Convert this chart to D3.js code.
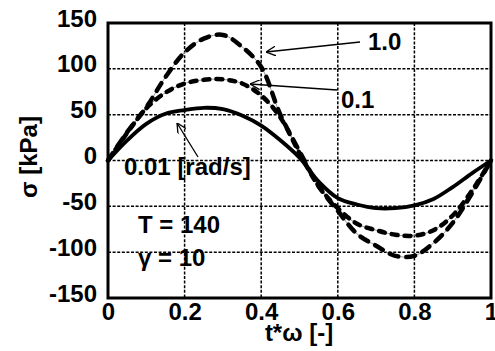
<!DOCTYPE html>
<html>
<head>
<meta charset="utf-8">
<script src="https://cdn.jsdelivr.net/npm/d3@7"></script>
<style>
  body { margin: 0; background: #fff; }
  text { font-family: "Liberation Sans", Arial, sans-serif; font-weight: bold; fill: #000; }
</style>
</head>
<body>
<div class="chart"></div>
<script>
// t*omega sample points and stress curves (kPa) for 3 angular frequencies
const tw = [0, 0.05, 0.1, 0.15, 0.2, 0.25, 0.3, 0.35, 0.4, 0.45, 0.5,
            0.55, 0.6, 0.65, 0.7, 0.75, 0.8, 0.85, 0.9, 0.95, 1];
const sig001 = [0, 22, 40, 51, 55, 57.5, 56, 49, 38, 22, 3,
                -23, -41, -48, -52, -52, -49, -42, -29, -14, 0];
const sig01 = [0, 30, 57, 74, 84, 88, 88.5, 84, 71, 47, 8,
               -28, -52, -69, -76, -81, -82, -76, -60, -33, 0];
const sig1 = [0, 31, 58, 91, 118, 133, 137, 124, 102, 50, 10,
              -28, -55, -80, -93, -104, -104, -90, -68, -36, 0];

const xTicks = [0, 0.2, 0.4, 0.6, 0.8, 1];
const xTickLabels = ["0", "0.2", "0.4", "0.6", "0.8", "1"];
const yTicks = [-150, -100, -50, 0, 50, 100, 150];

var width = 495, height = 351;
var mLeft = 108, mRight = 491, mTop = 23, mBottom = 298;

var svg = d3.select(".chart").append("svg")
  .attr("width", width)
  .attr("height", height);

var x = d3.scaleLinear().domain([0, 1]).range([mLeft, mRight]);
var y = d3.scaleLinear().domain([-150, 150]).range([mBottom, mTop]);

// arrow head marker (open "<" shape)
svg.append("defs").append("marker")
  .attr("id", "arr")
  .attr("viewBox", "0 0 10 10")
  .attr("refX", 10).attr("refY", 5)
  .attr("markerWidth", 10).attr("markerHeight", 10)
  .attr("markerUnits", "userSpaceOnUse")
  .attr("orient", "auto")
  .append("path")
  .attr("d", "M0,0 L10,5 L0,10")
  .attr("fill", "none")
  .attr("stroke", "#000")
  .attr("stroke-width", 1.3);

// grid
var grid = svg.append("g").attr("class", "grid");
grid.selectAll("line.v")
  .data(xTicks.filter(d => d > 0 && d < 1))
  .enter().append("line")
  .attr("x1", d => x(d)).attr("x2", d => x(d))
  .attr("y1", mTop).attr("y2", mBottom)
  .attr("stroke", "#000").attr("stroke-width", 1.5)
  .attr("stroke-dasharray", "3,1.6");
grid.selectAll("line.h")
  .data(yTicks.filter(d => d > -150 && d < 150))
  .enter().append("line")
  .attr("y1", d => y(d)).attr("y2", d => y(d))
  .attr("x1", mLeft).attr("x2", mRight)
  .attr("stroke", "#000").attr("stroke-width", 1.5)
  .attr("stroke-dasharray", "3,1.6");

// tick labels via axes
var xAxis = svg.append("g")
  .attr("transform", "translate(0," + mBottom + ")")
  .call(d3.axisBottom(x).tickValues(xTicks).tickSize(0).tickPadding(0)
    .tickFormat((d, i) => xTickLabels[i]));
xAxis.select(".domain").remove();
xAxis.selectAll("text")
  .attr("y", 22).attr("dy", null)
  .style("font-size", "24px")
  .style("font-family", "Liberation Sans, Arial, sans-serif")
  .style("font-weight", "bold");

// plain hyphen for negatives, like the original
var yAxis = svg.append("g")
  .attr("transform", "translate(" + mLeft + ",0)")
  .call(d3.axisLeft(y).tickValues(yTicks).tickSize(0).tickPadding(0)
    .tickFormat(d => String(d)));
yAxis.select(".domain").remove();
yAxis.selectAll("text")
  .attr("x", -11).attr("dy", 3)
  .style("font-size", "24px")
  .style("font-family", "Liberation Sans, Arial, sans-serif")
  .style("font-weight", "bold");

// curves
var line = (vals) => d3.line()
  .x((d, i) => x(tw[i]))
  .y(d => y(d))
  .curve(d3.curveCatmullRom)(vals);

var curves = svg.append("g");
// thin grey connector under dashed curves
[sig01, sig1].forEach(v => {
  curves.append("path").attr("d", line(v))
    .attr("fill", "none").attr("stroke", "#999").attr("stroke-width", 1);
});
curves.append("path").attr("d", line(sig001))
  .attr("fill", "none").attr("stroke", "#000").attr("stroke-width", 3.8);
curves.append("path").attr("d", line(sig01))
  .attr("fill", "none").attr("stroke", "#000").attr("stroke-width", 4.5)
  .attr("stroke-linecap", "round")
  .attr("stroke-dasharray", "6,7");
curves.append("path").attr("d", line(sig1))
  .attr("fill", "none").attr("stroke", "#000").attr("stroke-width", 4.5)
  .attr("stroke-linecap", "round")
  .attr("stroke-dasharray", "9,8");

// frame
svg.append("rect")
  .attr("x", mLeft).attr("y", mTop)
  .attr("width", mRight - mLeft).attr("height", mBottom - mTop)
  .attr("fill", "none").attr("stroke", "#000").attr("stroke-width", 3);

// axis titles
svg.append("text")
  .attr("x", 299).attr("y", 341)
  .attr("text-anchor", "middle")
  .style("font-size", "24px")
  .text("t*ω [-]");
svg.append("text")
  .attr("transform", "translate(37,157) rotate(-90)")
  .attr("text-anchor", "middle")
  .style("font-size", "24px")
  .text("σ [kPa]");

// annotations
var ann = svg.append("g");
ann.append("text").attr("x", 368).attr("y", 50).style("font-size", "24px").text("1.0");
ann.append("line").attr("x1", 360).attr("y1", 42).attr("x2", 266).attr("y2", 52)
  .attr("stroke", "#000").attr("stroke-width", 1.3).attr("marker-end", "url(#arr)");
ann.append("text").attr("x", 341).attr("y", 108).style("font-size", "24px").text("0.1");
ann.append("line").attr("x1", 337).attr("y1", 90).attr("x2", 250).attr("y2", 84)
  .attr("stroke", "#000").attr("stroke-width", 1.3).attr("marker-end", "url(#arr)");
ann.append("text").attr("x", 124).attr("y", 175).style("font-size", "24px").text("0.01 [rad/s]");
ann.append("line").attr("x1", 198).attr("y1", 157).attr("x2", 177).attr("y2", 123)
  .attr("stroke", "#000").attr("stroke-width", 1.3).attr("marker-end", "url(#arr)");

ann.append("text").attr("x", 138).attr("y", 233).style("font-size", "24px").text("T = 140");
ann.append("text").attr("x", 138).attr("y", 266).style("font-size", "24px").text("γ = 10");
</script>
</body>
</html>
